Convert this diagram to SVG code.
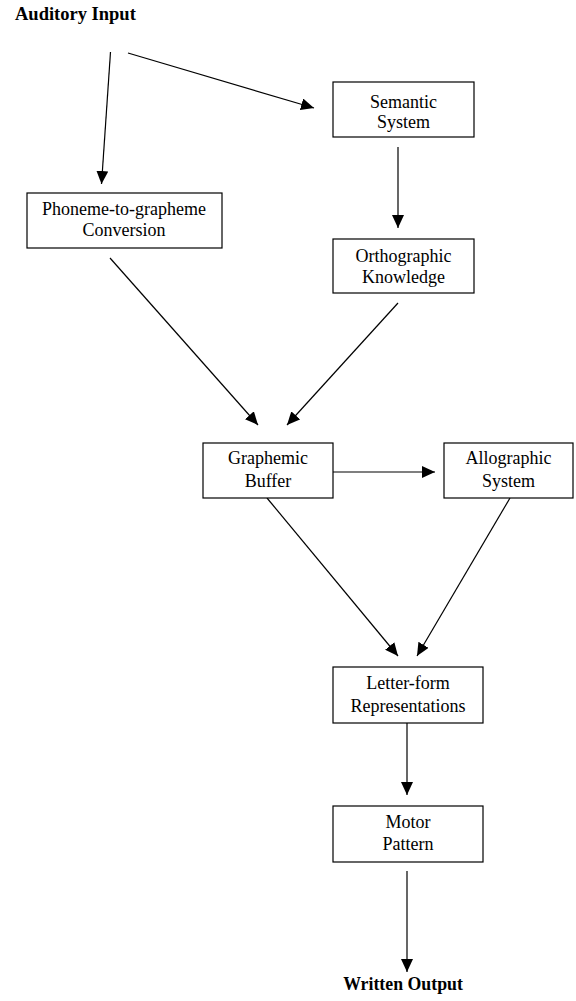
<svg xmlns="http://www.w3.org/2000/svg" width="576" height="1001" viewBox="0 0 576 1001">
<style>
.box{fill:#fff;stroke:#000;stroke-width:1.2}
.t{font-family:"Liberation Serif","Times New Roman",serif;font-size:18px;fill:#000;text-anchor:middle}
.b{font-family:"Liberation Serif","Times New Roman",serif;font-size:18.5px;font-weight:bold;fill:#000}
.c{stroke:#000;stroke-width:1.2;fill:none;marker-end:url(#ah)}
</style>
<defs>
<marker id="ah" markerWidth="13" markerHeight="12" refX="13" refY="6" orient="auto" markerUnits="userSpaceOnUse">
<path d="M0,0 L13,6 L0,12 Z" fill="#000"/>
</marker>
</defs>
<rect width="576" height="1001" fill="#fff"/>
<g id="auditory-input"><text class="b" x="15" y="20">Auditory Input</text></g>
<g id="written-output"><text class="b" x="403" y="990" text-anchor="middle" style="font-size:17.8px">Written Output</text></g>
<g id="connectors">
<line class="c" x1="110.5" y1="52" x2="101.5" y2="184"/>
<line class="c" x1="128" y1="53" x2="314" y2="108"/>
<line class="c" x1="398" y1="147" x2="398" y2="228"/>
<line class="c" x1="110" y1="258" x2="258" y2="425"/>
<line class="c" x1="398" y1="303" x2="287" y2="425"/>
<line class="c" x1="333" y1="472" x2="435" y2="472"/>
<line class="c" x1="267" y1="498" x2="398" y2="656"/>
<line class="c" x1="510" y1="498" x2="417" y2="656"/>
<line class="c" x1="407" y1="723" x2="407" y2="795"/>
<line class="c" x1="407" y1="871" x2="407" y2="972"/>
</g>
<g id="phoneme"><rect class="box" x="27" y="193" width="195" height="55"/><text class="t" x="124" y="215">Phoneme-to-grapheme</text><text class="t" x="124" y="236">Conversion</text></g>
<g id="semantic"><rect class="box" x="333" y="82" width="141" height="55"/><text class="t" x="403.5" y="108">Semantic</text><text class="t" x="403.5" y="128">System</text></g>
<g id="orthographic"><rect class="box" x="333" y="239" width="141" height="54"/><text class="t" x="403.5" y="262">Orthographic</text><text class="t" x="403.5" y="283">Knowledge</text></g>
<g id="graphemic"><rect class="box" x="203" y="443" width="130" height="55"/><text class="t" x="268" y="464">Graphemic</text><text class="t" x="268" y="487">Buffer</text></g>
<g id="allographic"><rect class="box" x="444" y="443" width="129" height="55"/><text class="t" x="508.5" y="464">Allographic</text><text class="t" x="508.5" y="487">System</text></g>
<g id="letterform"><rect class="box" x="333" y="667" width="150" height="56"/><text class="t" x="408" y="689">Letter-form</text><text class="t" x="408" y="712">Representations</text></g>
<g id="motor"><rect class="box" x="333" y="806" width="150" height="56"/><text class="t" x="408" y="828">Motor</text><text class="t" x="408" y="850">Pattern</text></g>
</svg>
